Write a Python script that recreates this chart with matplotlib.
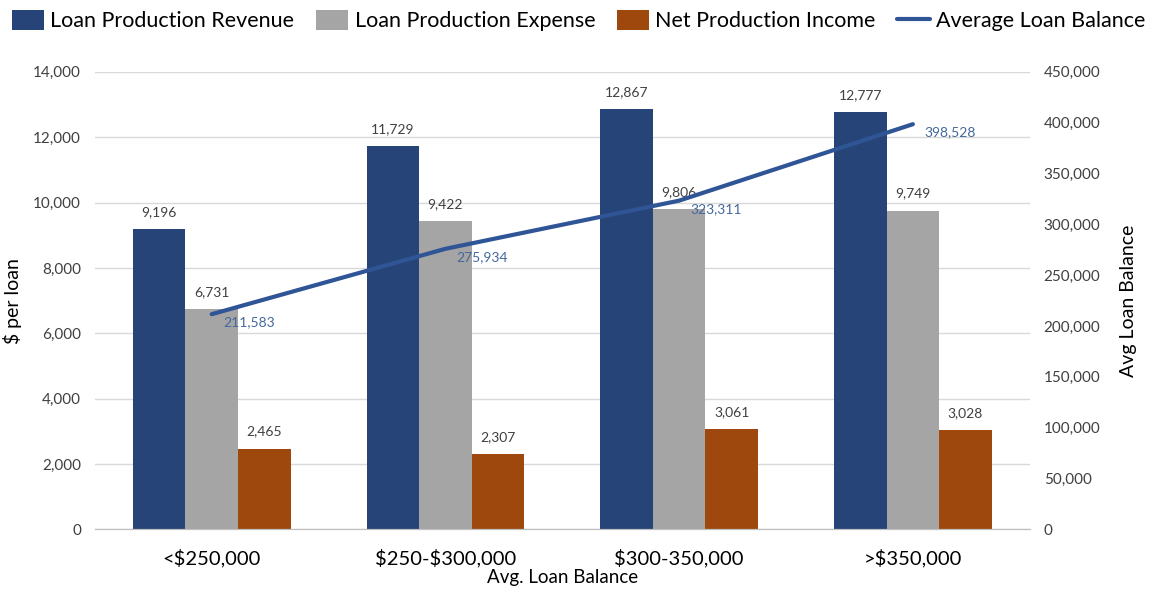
import numpy as np
import matplotlib.pyplot as plt
from matplotlib.ticker import FuncFormatter

plt.rcParams['font.family'] = ['Lato', 'DejaVu Sans']
plt.rcParams['text.parse_math'] = False

# data
categories = ['<$250,000', '$250-$300,000', '$300-350,000', '>$350,000']
revenue = [9196, 11729, 12867, 12777]
expense = [6731, 9422, 9806, 9749]
net_income = [2465, 2307, 3061, 3028]
avg_balance = [211583, 275934, 323311, 398528]

c_rev = '#264478'
c_exp = '#A5A5A5'
c_net = '#9E480E'
c_line = '#2F5597'

fig = plt.figure(figsize=(11.57, 5.94), dpi=100)
ax = fig.add_axes([0.082, 0.109, 0.808, 0.77])
ax2 = ax.twinx()

x = np.arange(len(categories))
w = 0.225
bars = [
    (revenue, c_rev, 'Loan Production Revenue', -w),
    (expense, c_exp, 'Loan Production Expense', 0),
    (net_income, c_net, 'Net Production Income', w),
]
handles = []
for vals, col, lab, off in bars:
    b = ax.bar(x + off, vals, w, color=col, label=lab, zorder=2)
    handles.append(b)
    for xi, v in zip(x + off, vals):
        ax.annotate(f'{v:,}', (xi, v), xytext=(0, 8), textcoords='offset points',
                    ha='center', va='bottom', fontsize=10, color='#404040')

ln, = ax2.plot(x, avg_balance, color=c_line, lw=3, label='Average Loan Balance',
               solid_capstyle='round', zorder=3)
handles.append(ln)
for xi, v in zip(x, avg_balance):
    ax2.annotate(f'{v:,}', (xi, v), xytext=(8, -6), textcoords='offset points',
                 ha='left', va='center', fontsize=10, color='#44689C')

ax.set_xlim(-0.5, 3.5)
ax.set_ylim(0, 14000)
ax.set_yticks(np.arange(0, 14001, 2000))
ax2.set_ylim(0, 450000)
ax2.set_yticks(np.arange(0, 450001, 50000))
fmt = FuncFormatter(lambda v, p: f'{int(v):,}')
ax.yaxis.set_major_formatter(fmt)
ax2.yaxis.set_major_formatter(fmt)

ax.grid(axis='y', color='#D9D9D9', lw=1, zorder=0)
ax.set_axisbelow(True)
for a in (ax, ax2):
    for s in ['top', 'left', 'right']:
        a.spines[s].set_visible(False)
    a.spines['bottom'].set_color('#BFBFBF')
    a.tick_params(axis='y', length=0, labelsize=11, labelcolor='#404040', pad=10)

ax.set_xticks(x)
ax.set_xticklabels(categories, fontsize=14.5, color='#000000')
ax.tick_params(axis='x', length=0, pad=14)
ax.set_xlabel('Avg. Loan Balance', fontsize=13.5, labelpad=1)
ax.set_ylabel('$ per loan', fontsize=14, labelpad=8)
ax2.set_ylabel('Avg Loan Balance', fontsize=14, labelpad=14)

fig.legend(handles=handles, loc='upper center', bbox_to_anchor=(0.5, 1.015), ncol=4,
           frameon=False, fontsize=15.5, handlelength=1.5, handleheight=1.0,
           handletextpad=0.3, columnspacing=1.0)

fig.savefig('out.png', dpi=100, facecolor='white')
